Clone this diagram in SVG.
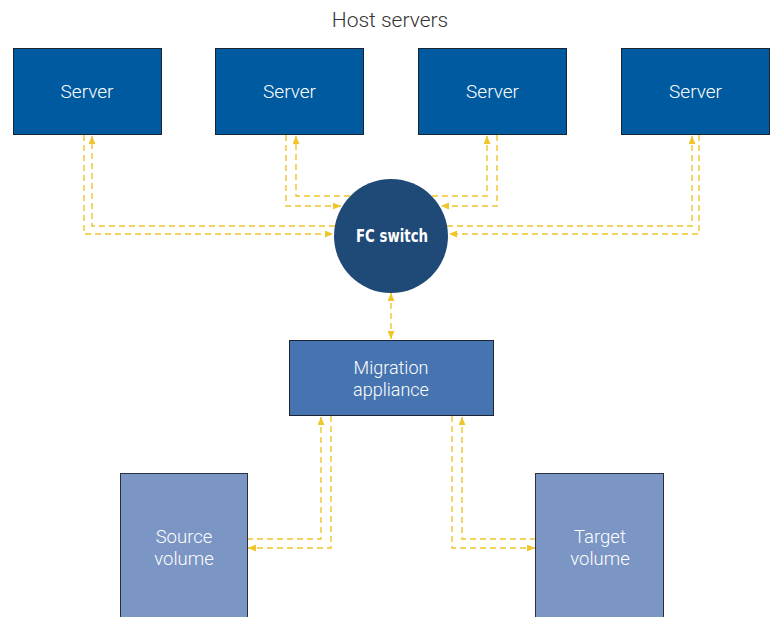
<svg xmlns="http://www.w3.org/2000/svg" width="771" height="617" viewBox="0 0 771 617">
  <style>
    .server rect { fill: #005a9f; stroke: #1c2433; stroke-width: 1; }
    .label { font-family: Roboto, "Liberation Sans", sans-serif; font-weight: 300; fill: #ffffff; text-anchor: middle; }
    .title { font-family: Roboto, "Liberation Sans", sans-serif; font-weight: 300; fill: #333333; text-anchor: middle; font-size: 21px; }
    .link { fill: none; stroke: #efc52c; stroke-width: 1.4; stroke-dasharray: 6 4; }
    .vol rect { fill: #7b95c5; stroke: #2a3040; stroke-width: 1; }
  </style>
  <defs>
    <marker id="arrow" markerUnits="userSpaceOnUse" markerWidth="9" markerHeight="8" refX="8" refY="3.5" orient="auto-start-reverse">
      <path d="M0,0 L8,3.5 L0,7 z" fill="#efc52c"/>
    </marker>
  </defs>

  <text class="title" x="390" y="27">Host servers</text>

  <!-- connectors -->
  <g id="connectors">
    <path class="link" d="M335,226 H92 V136" marker-end="url(#arrow)"/>
    <path class="link" d="M84,135 V234 H333" marker-end="url(#arrow)"/>
    <path class="link" d="M350,196 H296 V136" marker-end="url(#arrow)"/>
    <path class="link" d="M286,135 V206 H341" marker-end="url(#arrow)"/>
    <path class="link" d="M432,196 H487 V136" marker-end="url(#arrow)"/>
    <path class="link" d="M497,135 V206 H441" marker-end="url(#arrow)"/>
    <path class="link" d="M447,226 H692 V136" marker-end="url(#arrow)"/>
    <path class="link" d="M699,135 V234 H449" marker-end="url(#arrow)"/>
    <path class="link" d="M391,293 V339" marker-start="url(#arrow)" marker-end="url(#arrow)"/>
    <path class="link" d="M247,539 H321 V417" marker-end="url(#arrow)"/>
    <path class="link" d="M331,416 V548 H248" marker-end="url(#arrow)"/>
    <path class="link" d="M536,539 H462 V417" marker-end="url(#arrow)"/>
    <path class="link" d="M452,416 V548 H535" marker-end="url(#arrow)"/>
  </g>

  <g id="server1" class="server">
    <rect x="13.5" y="48.5" width="148" height="86"/>
    <text class="label" x="87" y="98" font-size="19">Server</text>
  </g>
  <g id="server2" class="server">
    <rect x="215.5" y="48.5" width="148" height="86"/>
    <text class="label" x="289.5" y="98" font-size="19">Server</text>
  </g>
  <g id="server3" class="server">
    <rect x="418.5" y="48.5" width="148" height="86"/>
    <text class="label" x="492.5" y="98" font-size="19">Server</text>
  </g>
  <g id="server4" class="server">
    <rect x="621.5" y="48.5" width="148" height="86"/>
    <text class="label" x="695.5" y="98" font-size="19">Server</text>
  </g>

  <g id="fc-switch">
    <circle cx="391" cy="236" r="57" fill="#1f4a78"/>
    <text x="392" y="242" font-family="'Liberation Sans Narrow', 'DejaVu Sans Condensed', 'Liberation Sans', sans-serif" font-weight="bold" font-size="17" fill="#ffffff" text-anchor="middle" textLength="72" lengthAdjust="spacingAndGlyphs">FC switch</text>
  </g>

  <g id="migration-appliance">
    <rect x="289.5" y="340.5" width="204" height="75" fill="#4674b0" stroke="#1c2433" stroke-width="1"/>
    <text class="label" x="391" y="374" font-size="18">Migration</text>
    <text class="label" x="391" y="396" font-size="18">appliance</text>
  </g>

  <g id="source-volume" class="vol">
    <rect x="120.5" y="473.5" width="127" height="150"/>
    <text class="label" x="184" y="543" font-size="18.5">Source</text>
    <text class="label" x="184" y="565" font-size="18.5">volume</text>
  </g>

  <g id="target-volume" class="vol">
    <rect x="535.5" y="473.5" width="128" height="150"/>
    <text class="label" x="600" y="543" font-size="18.5">Target</text>
    <text class="label" x="600" y="565" font-size="18.5">volume</text>
  </g>
</svg>
